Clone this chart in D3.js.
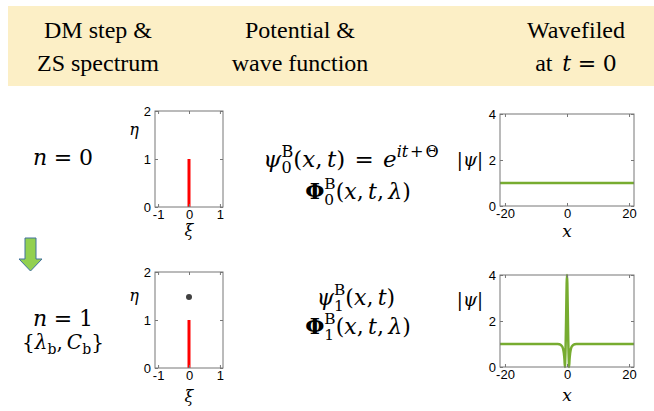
<!DOCTYPE html>
<html lang="en">
<head>
<meta charset="UTF-8">
<script src="https://d3js.org/d3.v7.min.js"></script>
<style>
  body { margin: 0; background: #fff; }
  svg text { fill: #000; }
</style>
</head>
<body>
<div id="draw_here"></div>
<script>
    var width = 654;
    var height = 411;

    // ---- data ----
    var xiTicks = [-1, 0, 1];
    var etaTicks = [0, 1, 2];
    var xTicks = [-20, 0, 20];
    var psiTicks = [0, 2, 4];

    // continuous spectrum (branch cut on the imaginary axis)
    var cutXi = [0, 0];
    var cutEta = [0, 1];
    // discrete eigenvalue added by the DM step (n = 1)
    var eigXi = [0];
    var eigEta = [1.48];

    // n = 0: plane wave background
    var bgX = [-21.6, 21.6];
    var bgPsi = [1, 1];

    // n = 1: breather on the background
    var brX = [-21.6, -3, -2.5, -2, -1.5, -1.25, -1, -0.8, -0.67, -0.6, -0.5, -0.4, -0.3, -0.2, -0.1, 0,
               0.1, 0.2, 0.3, 0.4, 0.5, 0.6, 0.67, 0.8, 1, 1.25, 1.5, 2, 2.5, 3, 21.6];
    var brPsi = [1, 1, 0.99, 0.96, 0.88, 0.78, 0.59, 0.31, 0.0, 0.21, 0.62, 1.19, 1.94, 2.83, 3.65, 4,
                 3.65, 2.83, 1.94, 1.19, 0.62, 0.21, 0.0, 0.31, 0.59, 0.78, 0.88, 0.96, 0.99, 1, 1];

    var rowShift = 161;
    var textFont = "'Liberation Serif', 'Times New Roman', serif";
    var mathFont = "'DejaVu Serif', serif";
    var axisFont = "'Liberation Sans', Arial, sans-serif";

    var svg = d3.select("#draw_here")
        .append("svg")
        .attr("width", width)
        .attr("height", height);

    // header band
    svg.append("rect")
        .attr("x", 8).attr("y", 6)
        .attr("width", width - 8).attr("height", 80)
        .attr("fill", "#fcefc6");

    function headerLine(cx, y, str) {
        svg.append("text")
            .attr("x", cx).attr("y", y)
            .attr("text-anchor", "middle")
            .attr("font-family", textFont)
            .attr("font-size", 24)
            .text(str);
    }
    headerLine(98, 38, "DM step &");
    headerLine(98, 71, "ZS spectrum");
    headerLine(300, 38, "Potential &");
    headerLine(300, 71, "wave function");
    headerLine(576, 38, "Wavefiled");

    // lays out a list of pieces left to right, scripts can be stacked
    function mathText(parts, x, y, size, anchor) {
        var g = svg.append("g");
        var cursor = 0, scriptStart = 0, scriptEnd = 0;
        parts.forEach(function(p) {
            var s = (p.pos ? size * 0.7 : size) * (p.scale || 1);
            if (p.gap) cursor += p.gap * size;
            var px = cursor;
            if (p.stack) px = scriptStart;
            var dy = p.pos === "sup" ? -0.44 * size : (p.pos === "sub" ? 0.26 * size : 0);
            var t = g.append("text")
                .attr("x", px).attr("y", dy)
                .attr("font-family", p.font || mathFont)
                .attr("font-size", s)
                .attr("font-style", p.f === "i" ? "italic" : "normal")
                .attr("font-weight", p.f === "b" ? "bold" : "normal")
                .text(p.t);
            var w = t.node().getComputedTextLength();
            if (p.stack) {
                cursor = Math.max(scriptEnd, px + w);
            } else {
                if (p.pos) { scriptStart = px; scriptEnd = px + w; }
                cursor = px + w;
            }
            if (p.gap) cursor += p.gap * size;
            if (p.after) cursor += p.after * size;
        });
        var off = anchor === "middle" ? cursor / 2 : (anchor === "end" ? cursor : 0);
        g.attr("transform", "translate(" + (x - off) + "," + y + ")");
        return g;
    }

    // header "at t = 0"
    mathText([
        {t: "at", f: "r", font: textFont, scale: 24 / 22, after: 0.45},
        {t: "t", f: "i"},
        {t: "=", f: "r", gap: 0.3},
        {t: "0", f: "r"}
    ], 576, 71, 22, "middle");

    // left column
    var ms = 22;
    mathText([{t: "n", f: "i"}, {t: "=", f: "r", gap: 0.3}, {t: "0", f: "r"}], 63, 165, ms, "middle");
    mathText([{t: "n", f: "i"}, {t: "=", f: "r", gap: 0.3}, {t: "1", f: "r"}], 63, 165 + rowShift, ms, "middle");
    mathText([
        {t: "{", f: "r"}, {t: "λ", f: "i"}, {t: "b", f: "r", pos: "sub"},
        {t: ",", f: "r", after: 0.2}, {t: "C", f: "i"}, {t: "b", f: "r", pos: "sub"},
        {t: "}", f: "r"}
    ], 63, 349, 20, "middle");

    // green arrow
    var arrow = d3.path();
    arrow.moveTo(25, 238); arrow.lineTo(36, 238); arrow.lineTo(36, 259);
    arrow.lineTo(42, 259); arrow.lineTo(30.5, 271); arrow.lineTo(19, 259);
    arrow.lineTo(25, 259); arrow.closePath();
    svg.append("path").attr("d", arrow.toString())
        .attr("fill", "#92d050").attr("stroke", "#41719c").attr("stroke-width", 1);

    // middle column formulas
    mathText([
        {t: "ψ", f: "i"}, {t: "B", f: "r", pos: "sup"}, {t: "0", f: "r", pos: "sub", stack: true},
        {t: "(", f: "r"}, {t: "x", f: "i"}, {t: ",", f: "r", after: 0.2}, {t: "t", f: "i"}, {t: ")", f: "r"},
        {t: "=", f: "r", gap: 0.4}, {t: "e", f: "i"},
        {t: "it", f: "i", pos: "sup"}, {t: "+", f: "r", pos: "sup", gap: 0.08}, {t: "Θ", f: "r", pos: "sup"}
    ], 351, 167, 23, "middle");
    mathText([
        {t: "Φ", f: "b"}, {t: "B", f: "r", pos: "sup"}, {t: "0", f: "r", pos: "sub", stack: true},
        {t: "(", f: "r"}, {t: "x", f: "i"}, {t: ",", f: "r", after: 0.2}, {t: "t", f: "i"},
        {t: ",", f: "r", after: 0.2}, {t: "λ", f: "i"}, {t: ")", f: "r"}
    ], 358, 199, ms, "middle");
    mathText([
        {t: "ψ", f: "i"}, {t: "B", f: "r", pos: "sup"}, {t: "1", f: "r", pos: "sub", stack: true},
        {t: "(", f: "r"}, {t: "x", f: "i"}, {t: ",", f: "r", after: 0.2}, {t: "t", f: "i"}, {t: ")", f: "r"}
    ], 356, 305, ms, "middle");
    mathText([
        {t: "Φ", f: "b"}, {t: "B", f: "r", pos: "sup"}, {t: "1", f: "r", pos: "sub", stack: true},
        {t: "(", f: "r"}, {t: "x", f: "i"}, {t: ",", f: "r", after: 0.2}, {t: "t", f: "i"},
        {t: ",", f: "r", after: 0.2}, {t: "λ", f: "i"}, {t: ")", f: "r"}
    ], 358, 334, ms, "middle");

    // MATLAB-like box axes with inward ticks on all four sides
    function boxAxes(x, y, xt, yt) {
        var g = svg.append("g");
        var x0 = x.range()[0], x1 = x.range()[1];
        var y0 = y.range()[0], y1 = y.range()[1];
        var tick = 3;
        g.append("g")
            .attr("transform", `translate(0,${y0})`)
            .call(d3.axisBottom(x).tickValues(xt).tickFormat(d => String(d))
                .tickSizeInner(-tick).tickSizeOuter(0).tickPadding(3))
            .call(g => g.select(".domain").remove());
        g.append("g")
            .attr("transform", `translate(${x0},0)`)
            .call(d3.axisLeft(y).tickValues(yt).tickFormat(d => String(d))
                .tickSizeInner(-tick).tickSizeOuter(0).tickPadding(4))
            .call(g => g.select(".domain").remove());
        g.append("g")
            .attr("transform", `translate(0,${y1})`)
            .call(d3.axisTop(x).tickValues(xt).tickFormat("")
                .tickSizeInner(-tick).tickSizeOuter(0))
            .call(g => g.select(".domain").remove());
        g.append("g")
            .attr("transform", `translate(${x1},0)`)
            .call(d3.axisRight(y).tickValues(yt).tickFormat("")
                .tickSizeInner(-tick).tickSizeOuter(0))
            .call(g => g.select(".domain").remove());
        g.selectAll(".tick line").attr("stroke", "#777");
        g.selectAll(".tick text")
            .attr("font-family", axisFont)
            .attr("font-size", 13)
            .attr("fill", "#262626");
        g.append("rect")
            .attr("x", x0).attr("y", y1)
            .attr("width", x1 - x0).attr("height", y0 - y1)
            .attr("fill", "none").attr("stroke", "#777").attr("stroke-width", 1);
        return g;
    }

    function label(str, x, y, size) {
        svg.append("text")
            .attr("x", x).attr("y", y)
            .attr("text-anchor", "middle")
            .attr("font-family", mathFont)
            .attr("font-style", "italic")
            .attr("font-size", size)
            .text(str);
    }

    // ---- spectrum panels ----
    [0, 1].forEach(function(row) {
        var dy = row * rowShift;
        var x = d3.scaleLinear().domain([-1.1, 1.1]).range([155, 223]);
        var y = d3.scaleLinear().domain([0, 2]).range([207 + dy, 111 + dy]);

        var g = svg.append("g");
        g.append("line")
            .attr("x1", x(cutXi[0])).attr("x2", x(cutXi[1]))
            .attr("y1", y(cutEta[0])).attr("y2", y(cutEta[1]))
            .attr("stroke", "#ff0000").attr("stroke-width", 3);
        if (row === 1) {
            g.selectAll("circle")
                .data(eigXi)
                .join("circle")
                .attr("cx", d => x(d))
                .attr("cy", (d, i) => y(eigEta[i]))
                .attr("r", 3)
                .attr("fill", "#404040");
        }
        boxAxes(x, y, xiTicks, etaTicks);
        label("η", 134, (row === 0 ? 135 : 301), 16);
        label("ξ", 189, (row === 0 ? 236 : 402), 16);
    });

    // ---- wavefield panels ----
    var series = [[bgX, bgPsi], [brX, brPsi]];
    [0, 1].forEach(function(row) {
        var dy = row * rowShift;
        var x = d3.scaleLinear().domain([-21.6, 21.6]).range([500, 634]);
        var y = d3.scaleLinear().domain([0, 4]).range([206 + dy, 114 + dy]);
        var pts = series[row][0].map((v, i) => [v, series[row][1][i]]);

        var line = d3.line()
            .x(d => x(d[0]))
            .y(d => y(d[1]))
            .curve(d3.curveMonotoneX);

        svg.append("path")
            .datum(pts)
            .attr("d", line)
            .attr("fill", "none")
            .attr("stroke", "#77ac30")
            .attr("stroke-width", 2.5)
            .attr("stroke-linejoin", "round");

        boxAxes(x, y, xTicks, psiTicks);
        mathText([{t: "|", f: "r"}, {t: "ψ", f: "i"}, {t: "|", f: "r"}], 470, (row === 0 ? 166 : 306), 18, "middle");
        label("x", 567, (row === 0 ? 237 : 401), 17);
    });
</script>
</body>
</html>
